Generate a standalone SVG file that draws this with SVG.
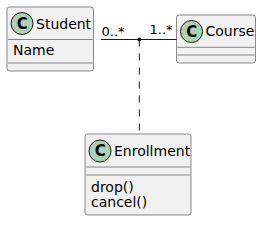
<svg xmlns="http://www.w3.org/2000/svg" width="270" height="229" viewBox="0 0 270 229">
<style>
.box{fill:#F1F1F1;stroke:#181818;stroke-width:0.5}
.div{stroke:#181818;stroke-width:0.5}
.circ{fill:#ADD1B2;stroke:#181818;stroke-width:1}
.t{font-family:"DejaVu Sans",sans-serif;font-size:14px;fill:#000}
.c{font-family:"DejaVu Sans",sans-serif;font-size:15px;font-weight:bold;fill:#000}
.lbl{font-family:"DejaVu Sans",sans-serif;font-size:13px;fill:#000}
.ln{stroke:#181818;stroke-width:1;fill:none}
</style>
<rect width="270" height="229" fill="#FFFFFF"/>
<g id="Student">
<rect class="box" x="7" y="7" width="86.5" height="64" rx="2.5"/>
<circle class="circ" cx="22" cy="23.5" r="11"/>
<text class="c" x="22.3" y="28.8" text-anchor="middle">C</text>
<text class="t" x="36" y="28.5">Student</text>
<line class="div" x1="8" y1="39.5" x2="92.5" y2="39.5"/>
<text class="t" x="13" y="55">Name</text>
<line class="div" x1="8" y1="63" x2="92.5" y2="63"/>
</g>
<g id="Course">
<rect class="box" x="176.5" y="15" width="79" height="48" rx="2.5"/>
<circle class="circ" cx="191.5" cy="31.5" r="11"/>
<text class="c" x="191.8" y="36.8" text-anchor="middle">C</text>
<text class="t" x="205.5" y="36.3">Course</text>
<line class="div" x1="177.5" y1="47.3" x2="254.5" y2="47.3"/>
<line class="div" x1="177.5" y1="55" x2="254.5" y2="55"/>
</g>
<g id="Enrollment">
<rect class="box" x="85" y="134" width="106" height="81" rx="2.5"/>
<circle class="circ" cx="100" cy="151" r="11"/>
<text class="c" x="100.3" y="156.3" text-anchor="middle">C</text>
<text class="t" x="114" y="155.8">Enrollment</text>
<line class="div" x1="86" y1="167" x2="190" y2="167"/>
<line class="div" x1="86" y1="175" x2="190" y2="175"/>
<text class="t" x="91" y="191.5">drop()</text>
<text class="t" x="91" y="206.8">cancel()</text>
</g>
<g id="connectors">
<line class="ln" x1="101" y1="39.5" x2="176.5" y2="39.5"/>
<circle cx="139.3" cy="39.5" r="2" fill="#181818"/>
<line class="ln" x1="139.3" y1="39.5" x2="139.3" y2="134" stroke-dasharray="7,7"/>
<text class="lbl" x="101.5" y="35.5">0..*</text>
<text class="lbl" x="149.5" y="33.5">1..*</text>
</g>
</svg>
